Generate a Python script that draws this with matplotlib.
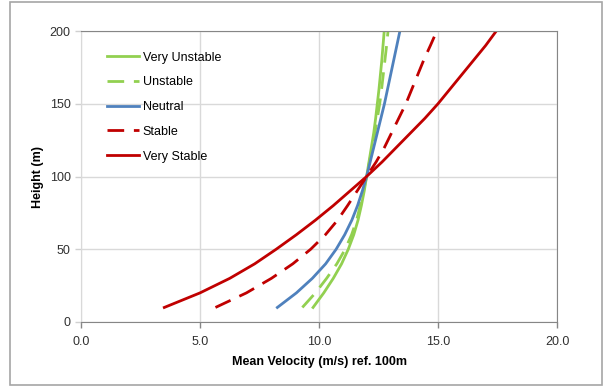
from matplotlib import pyplot as plt
from matplotlib.patches import Rectangle

height = [10, 20, 30, 40, 50, 60, 70, 80, 90, 100,
          110, 120, 130, 140, 150, 160, 170, 180, 190, 200]

very_unstable = [9.75, 10.2, 10.6, 10.95, 11.23, 11.46, 11.64, 11.78, 11.9, 12.0,
                 12.1, 12.2, 12.3, 12.38, 12.45, 12.52, 12.58, 12.64, 12.69, 12.74]
unstable = [9.3, 9.85, 10.32, 10.75, 11.1, 11.37, 11.58, 11.73, 11.87, 12.0,
            12.12, 12.24, 12.35, 12.45, 12.55, 12.63, 12.7, 12.77, 12.84, 12.9]
neutral = [8.25, 9.05, 9.72, 10.28, 10.72, 11.08, 11.38, 11.62, 11.82, 12.0,
           12.15, 12.3, 12.45, 12.6, 12.75, 12.88, 13.01, 13.14, 13.27, 13.4]
stable = [5.65, 6.95, 8.0, 8.9, 9.65, 10.27, 10.78, 11.2, 11.6, 12.0,
          12.4, 12.75, 13.05, 13.35, 13.65, 13.9, 14.15, 14.4, 14.68, 14.95]
very_stable = [3.5, 5.0, 6.25, 7.3, 8.2, 9.05, 9.85, 10.6, 11.3, 12.0,
               12.65, 13.25, 13.85, 14.45, 15.0, 15.5, 16.0, 16.5, 17.0, 17.45]

plt.rcParams['font.family'] = ['Liberation Sans', 'DejaVu Sans']

fig = plt.figure(figsize=(6.05, 3.87), dpi=100)
fig.patches.append(Rectangle((10/605, 2/387), 592/605, 383/387,
                             transform=fig.transFigure, fill=False,
                             edgecolor='#a6a6a6', linewidth=1.2))
ax = fig.add_axes([81/605, 1-322/387, 476/605, 291/387])

green = '#92D050'
blue = '#4F81BD'
red = '#C00000'
dash = (0, (6, 3.5))
ax.plot(very_unstable, height, color=green, lw=2, label='Very Unstable')
ax.plot(unstable, height, color=green, lw=2, ls=dash, label='Unstable')
ax.plot(neutral, height, color=blue, lw=2, label='Neutral')
ax.plot(stable, height, color=red, lw=2, ls=dash, label='Stable')
ax.plot(very_stable, height, color=red, lw=2, label='Very Stable')

ax.set_xlim(0, 20)
ax.set_ylim(0, 200)
ax.set_xticks([0, 5, 10, 15, 20])
ax.set_xticklabels(['0.0', '5.0', '10.0', '15.0', '20.0'])
ax.set_yticks([0, 50, 100, 150, 200])
ax.grid(color='#d9d9d9', linewidth=1)
ax.set_axisbelow(True)
for s in ['top', 'right', 'bottom']:
    ax.spines[s].set_color('#868686')
ax.spines['left'].set_color('#d9d9d9')
ax.tick_params(axis='both', colors='#d0d0d0', labelcolor='#303030',
               labelsize=9, length=4, width=1)
ax.tick_params(axis='x', colors='#868686', labelcolor='#303030', pad=6)

ax.set_xlabel('Mean Velocity (m/s) ref. 100m', fontsize=9, fontweight='bold', labelpad=6)
ax.set_ylabel('Height (m)', fontsize=9, fontweight='bold', labelpad=4)

ax.legend(loc='upper left', bbox_to_anchor=(0.03, 0.968), frameon=False,
          fontsize=9, handlelength=2.6, handletextpad=0.3, labelspacing=1.02)

plt.savefig('out.png')
